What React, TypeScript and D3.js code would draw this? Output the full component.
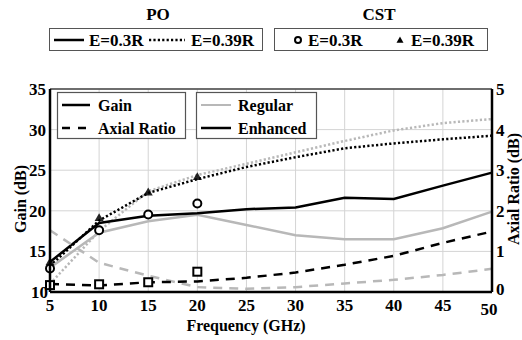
import React from "react";
import * as d3 from "d3";

// Frequency sweep (GHz)
const freqs = [5, 10, 15, 20, 25, 30, 35, 40, 45, 50];

// PO gain (dB)
const gainEnhanced03 = [13.7, 18.5, 19.4, 19.7, 20.2, 20.4, 21.6, 21.45, 23.1, 24.7];
const gainRegular03 = [13.0, 17.3, 18.7, 19.5, 18.25, 17.0, 16.5, 16.5, 17.85, 19.9];
const gainEnhanced039 = [13.2, 18.8, 22.2, 23.9, 25.4, 26.6, 27.7, 28.3, 28.8, 29.25];
const gainRegular039 = [11.0, 17.5, 22.4, 24.4, 25.8, 27.2, 28.6, 29.9, 30.8, 31.3];

// PO axial ratio (dB)
const arEnhanced = [0.2, 0.16, 0.24, 0.26, 0.35, 0.48, 0.67, 0.89, 1.21, 1.49];
const arRegular = [1.52, 0.72, 0.4, 0.12, 0.08, 0.12, 0.21, 0.3, 0.42, 0.57];

// CST samples
const cstFreqs = [5, 10, 15, 20];
const cstGain03 = [12.9, 17.6, 19.55, 20.9];
const cstGain039 = [13.7, 19.15, 22.3, 24.2];
const cstAr = [0.17, 0.19, 0.24, 0.5];

const xTicks = [5, 10, 15, 20, 25, 30, 35, 40, 45, 50];
const gainTicks = [10, 15, 20, 25, 30, 35];
const arTicks = [0, 1, 2, 3, 4, 5];

const W = 522;
const H = 340;
const left = 50;
const right = 492;
const top = 89;
const bottom = 292;

const GRAY = "#b8b8b8";
const T = { fontFamily: "Liberation Serif", fontWeight: "bold", fontSize: 16 } as const;

export default function App() {
  const x = d3.scaleLinear().domain([5, 50]).range([left, right]);
  const yG = d3.scaleLinear().domain([10, 35]).range([bottom, top]);
  const yA = d3.scaleLinear().domain([0, 5]).range([bottom, top]);

  const lineG = (vals: number[]) =>
    d3.line<number>().x((_, i) => x(freqs[i])).y((v) => yG(v))(vals) || "";
  const lineA = (vals: number[]) =>
    d3.line<number>().x((_, i) => x(freqs[i])).y((v) => yA(v))(vals) || "";

  const dotted = "2.2,2.2";
  const dashed = "9,7";

  const tri = (cx: number, cy: number, s: number) =>
    `M${cx},${cy - s}L${cx + s},${cy + s * 0.75}L${cx - s},${cy + s * 0.75}Z`;

  return (
    <svg width={W} height={H} style={{ position: "absolute", left: 0, top: 0, background: "#fff" }}>
      {/* top legends */}
      <text {...T} x={158} y={20} fontSize={17} textAnchor="middle">PO</text>
      <text {...T} x={379} y={20} fontSize={17} textAnchor="middle">CST</text>
      <rect x={49.5} y={28.5} width={213} height={22} fill="none" stroke="#555" strokeWidth={1} />
      <line x1={54} x2={84} y1={40} y2={40} stroke="#000" strokeWidth={2.5} />
      <text {...T} fontSize={17} x={89} y={45.5}>E=0.3R</text>
      <line x1={149} x2={185} y1={40} y2={40} stroke="#000" strokeWidth={2.5} strokeDasharray={dotted} />
      <text {...T} fontSize={17} x={191} y={45.5}>E=0.39R</text>

      <rect x={274.5} y={28.5} width={213} height={22} fill="none" stroke="#555" strokeWidth={1} />
      <circle cx={298} cy={40} r={3} fill="#fff" stroke="#000" strokeWidth={2} />
      <text {...T} fontSize={17} x={308} y={45.5}>E=0.3R</text>
      <path d={tri(400, 40, 3.5)} fill="#000" />
      <text {...T} fontSize={17} x={411} y={45.5}>E=0.39R</text>

      {/* grid */}
      {xTicks.map((t) => (
        <line key={"gx" + t} x1={x(t)} x2={x(t)} y1={top} y2={bottom} stroke="#d4d4d4" strokeWidth={1} />
      ))}
      {gainTicks.map((t) => (
        <line key={"gy" + t} x1={left} x2={right} y1={yG(t)} y2={yG(t)} stroke="#d4d4d4" strokeWidth={1} />
      ))}

      {/* PO gain curves */}
      <path d={lineG(gainRegular039)} fill="none" stroke={GRAY} strokeWidth={2.5} strokeDasharray={dotted} />
      <path d={lineG(gainEnhanced039)} fill="none" stroke="#000" strokeWidth={2.5} strokeDasharray={dotted} />
      <path d={lineG(gainRegular03)} fill="none" stroke={GRAY} strokeWidth={2.5} />
      <path d={lineG(gainEnhanced03)} fill="none" stroke="#000" strokeWidth={2.5} />

      {/* PO axial ratio curves */}
      <path d={lineA(arRegular)} fill="none" stroke={GRAY} strokeWidth={2.5} strokeDasharray={dashed} />
      <path d={lineA(arEnhanced)} fill="none" stroke="#000" strokeWidth={2.5} strokeDasharray={dashed} />

      {/* CST samples */}
      {cstFreqs.map((f, i) => (
        <g key={"cst" + f}>
          <circle cx={x(f)} cy={yG(cstGain03[i])} r={4} fill="#fff" stroke="#000" strokeWidth={2} />
          <path d={tri(x(f), yG(cstGain039[i]), 4.5)} fill="#000" fillOpacity={0.85} />
          <rect x={x(f) - 4} y={yA(cstAr[i]) - 4} width={8} height={8} fill="#fff" stroke="#000" strokeWidth={2} />
        </g>
      ))}

      {/* frame */}
      <line x1={left} x2={right} y1={top} y2={top} stroke="#444" strokeWidth={1.5} />
      <line x1={left} x2={left} y1={top} y2={bottom} stroke="#000" strokeWidth={2.5} />
      <line x1={right} x2={right} y1={top} y2={bottom} stroke="#000" strokeWidth={2.5} />
      <line x1={left} x2={right} y1={bottom} y2={bottom} stroke="#000" strokeWidth={2.5} />

      {/* inner legends */}
      <rect x={57.5} y={92.5} width={128} height={46} fill="#fff" stroke="#555" strokeWidth={1.2} />
      <line x1={62} x2={90} y1={105} y2={105} stroke="#000" strokeWidth={2.5} />
      <text {...T} x={98} y={110.5}>Gain</text>
      <line x1={62} x2={90} y1={128} y2={128} stroke="#000" strokeWidth={2.5} strokeDasharray="8,8" />
      <text {...T} x={98} y={133.5}>Axial Ratio</text>

      <rect x={196.5} y={92.5} width={120} height={46} fill="#fff" stroke="#555" strokeWidth={1.2} />
      <line x1={201} x2={231} y1={105} y2={105} stroke={GRAY} strokeWidth={2} />
      <text {...T} x={238} y={110.5}>Regular</text>
      <line x1={201} x2={231} y1={128} y2={128} stroke="#000" strokeWidth={2.5} />
      <text {...T} x={238} y={133.5}>Enhanced</text>

      {/* axes labels */}
      {xTicks.map((t) => (
        <text {...T} fontSize={17} key={"xt" + t} x={t === 50 ? x(t) - 3 : x(t)} y={t === 50 ? 315 : 311} textAnchor="middle">{t}</text>
      ))}
      {gainTicks.map((t) => (
        <text {...T} fontSize={17} key={"yt" + t} x={t === 10 ? 48 : 46} y={yG(t) + 6} textAnchor="end">{t}</text>
      ))}
      {arTicks.map((t) => (
        <text {...T} fontSize={17} key={"at" + t} x={496} y={t === 0 ? yA(t) + 3 : yA(t) + 6} textAnchor="start">{t}</text>
      ))}

      <text {...T} x={246} y={331} textAnchor="middle">Frequency (GHz)</text>
      <text {...T} transform={`translate(26,199) rotate(-90)`} textAnchor="middle">Gain (dB)</text>
      <text {...T} transform={`translate(519,189) rotate(-90)`} textAnchor="middle">Axial Ratio (dB)</text>
    </svg>
  );
}
